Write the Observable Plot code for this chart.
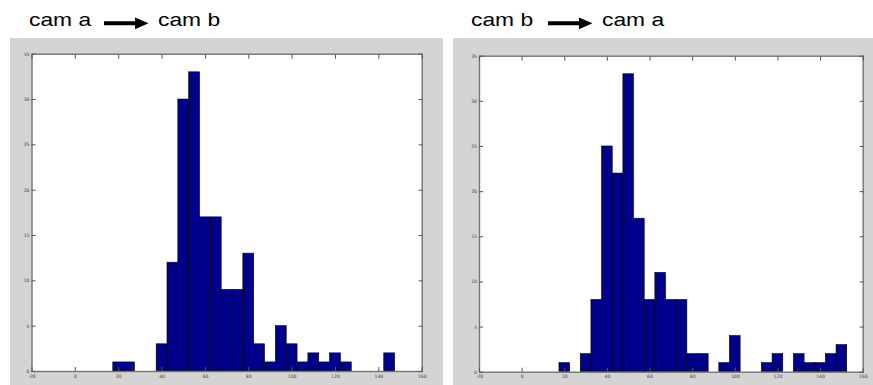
<!DOCTYPE html>
<html>
<head>
<meta charset="utf-8">
<script src="https://cdn.jsdelivr.net/npm/d3@7"></script>
<script src="https://cdn.jsdelivr.net/npm/@observablehq/plot@0.6"></script>
<style>
  html, body { margin: 0; padding: 0; background: #fff; }
  #page { position: relative; width: 873px; height: 385px; overflow: hidden; background: #fff; }
  .title { position: absolute; top: 9px; font-family: "Liberation Sans", Arial, sans-serif; font-size: 19px; color: #000; white-space: nowrap; transform: scaleX(1.2); transform-origin: left top; line-height: normal; }
  .arrow { position: absolute; }
  .panel { position: absolute; background: #d4d4d4; }
  .panel svg { display: block; }
</style>
</head>
<body>
<div id="page">
  <div class="title" style="left:28.5px">cam a</div>
  <svg class="arrow" style="left:104px;top:17px" width="45" height="13" viewBox="0 0 45 13"><path d="M0,4.3H31V0.5L44.5,6.3L31,12.3V8.3H0Z" fill="#000"/></svg>
  <div class="title" style="left:157.5px">cam b</div>

  <div class="title" style="left:471px">cam b</div>
  <svg class="arrow" style="left:547.5px;top:16.5px" width="45" height="13" viewBox="0 0 45 13"><path d="M0,4.3H31V0.5L44.5,6.3L31,12.3V8.3H0Z" fill="#000"/></svg>
  <div class="title" style="left:601.5px">cam a</div>

  <div class="panel" id="left" style="left:10px;top:38px;width:433px;height:347px"></div>
  <div class="panel" id="right" style="left:453px;top:38px;width:420px;height:347px"></div>
</div>
<script>
// ---- data ----
const xTicks = [-20, 0, 20, 40, 60, 80, 100, 120, 140, 160];
const yTicks = [0, 5, 10, 15, 20, 25, 30, 35];
const binCenters = [20, 25, 30, 35, 40, 45, 50, 55, 60, 65, 70, 75, 80, 85, 90, 95, 100, 105, 110, 115, 120, 125, 130, 135, 140, 145, 150];
const binWidth = 5;
// cam a -> cam b
const countsAB = [1, 1, 0, 0, 3, 12, 30, 33, 17, 17, 9, 9, 13, 3, 1, 5, 3, 1, 2, 1, 2, 1, 0, 0, 0, 2, 0];
// cam b -> cam a
const countsBA = [1, 0, 2, 8, 25, 22, 33, 17, 8, 11, 8, 8, 2, 2, 0, 1, 4, 0, 0, 1, 2, 0, 2, 1, 1, 2, 3];

function panel(counts, {width, height, ml, mr, mt, mb}) {
  const bars = binCenters
    .map((c, i) => ({x1: c - binWidth / 2, x2: c + binWidth / 2, count: counts[i]}))
    .filter(d => d.count > 0);
  const txt = {fontSize: 4.6, fill: "#444"};
  return Plot.plot({
    width, height,
    marginLeft: ml, marginRight: mr, marginTop: mt, marginBottom: mb,
    style: {background: "transparent", fontFamily: "DejaVu Sans", fontSize: "4.6px", color: "#444", overflow: "visible"},
    x: {domain: [-20, 160]},
    y: {domain: [0, 35]},
    marks: [
      Plot.frame({fill: "#fff", stroke: null}),
      Plot.rectY(bars, {x1: "x1", x2: "x2", y: "count", fill: "#00008b", stroke: "#000", strokeWidth: 0.6}),
      Plot.frame({stroke: "#747474", strokeWidth: 1.4}),
      // inward ticks on all four sides
      Plot.axisX(xTicks, {anchor: "bottom", tickSize: 4, dy: -4, tickFormat: () => "", label: null, stroke: "#555"}),
      Plot.axisX(xTicks, {anchor: "top", tickSize: 4, dy: 4, tickFormat: () => "", label: null, stroke: "#555"}),
      Plot.axisY(yTicks, {anchor: "left", tickSize: 4, dx: 4, tickFormat: () => "", label: null, stroke: "#555"}),
      Plot.axisY(yTicks, {anchor: "right", tickSize: 4, dx: -4, tickFormat: () => "", label: null, stroke: "#555"}),
      // tick labels
      Plot.axisX(xTicks, {anchor: "bottom", tickSize: 0, tickPadding: 3, tickFormat: d => String(d), label: null, ...txt}),
      Plot.axisY(yTicks, {anchor: "left", tickSize: 0, tickPadding: 2.5, tickFormat: d => String(d), label: null, ...txt})
    ]
  });
}

document.getElementById("left").appendChild(
  panel(countsAB, {width: 433, height: 347, ml: 21.5, mr: 21.3, mt: 15.7, mb: 14})
);
document.getElementById("right").appendChild(
  panel(countsBA, {width: 420, height: 347, ml: 26, mr: 10.3, mt: 17.7, mb: 13.3})
);
</script>
</body>
</html>
